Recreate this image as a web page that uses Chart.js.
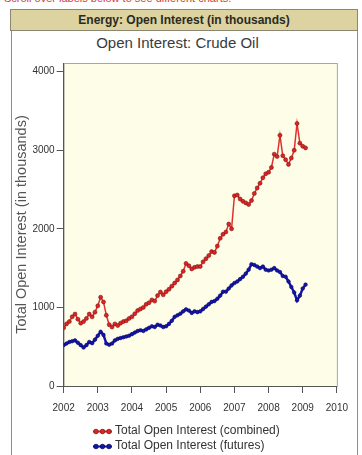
<!DOCTYPE html>
<html>
<head>
<meta charset="utf-8">
<script src="https://cdn.jsdelivr.net/npm/chart.js@4.4.1/dist/chart.umd.min.js"></script>
<style>
  html, body { margin: 0; background: #fff; font-family: "Liberation Sans", Arial, sans-serif; overflow: hidden; }
  #top { position: absolute; left: 4px; top: -8px; font-size: 11px; color: #d04040; white-space: nowrap; }
  #head { position: absolute; left: 10px; top: 9px; width: 346px; height: 20px; background: #dcd3a0;
          border: 1px solid #8a8672; text-align: center; font-weight: bold; font-size: 12px; line-height: 20px; color: #2a2a20; }
  #panel { position: absolute; left: 11px; top: 31px; width: 345px; height: 424px;
           border-left: 1px solid #8d8d8d; border-right: 1px solid #8d8d8d; }
  #titulo { position: absolute; left: 0; top: 34px; width: 355px; text-align: center; font-size: 15px; color: #3a3a3a; }
  #chart1 { position: absolute; left: 12px; top: 30px; }
  #legenda { position: absolute; left: 92px; top: 423px; font-size: 12px; color: #333; line-height: 15px; }
  #legenda div { white-space: nowrap; }
  #legenda canvas { vertical-align: -1px; margin-right: 2px; }
</style>
</head>
<body>
<div id="top">Scroll over labels below to see different charts.</div>
<div id="head">Energy: Open Interest (in thousands)</div>
<div id="panel"></div>
<div id="titulo">Open Interest: Crude Oil</div>
<canvas id="chart1" width="345" height="425"></canvas>
<div id="legenda"></div>
<script>
// meses (ano-mes) de jan/2002 a fev/2009
const meses = [
  '2002-01','2002-02','2002-03','2002-04','2002-05','2002-06','2002-07','2002-08','2002-09','2002-10','2002-11','2002-12',
  '2003-01','2003-02','2003-03','2003-04','2003-05','2003-06','2003-07','2003-08','2003-09','2003-10','2003-11','2003-12',
  '2004-01','2004-02','2004-03','2004-04','2004-05','2004-06','2004-07','2004-08','2004-09','2004-10','2004-11','2004-12',
  '2005-01','2005-02','2005-03','2005-04','2005-05','2005-06','2005-07','2005-08','2005-09','2005-10','2005-11','2005-12',
  '2006-01','2006-02','2006-03','2006-04','2006-05','2006-06','2006-07','2006-08','2006-09','2006-10','2006-11','2006-12',
  '2007-01','2007-02','2007-03','2007-04','2007-05','2007-06','2007-07','2007-08','2007-09','2007-10','2007-11','2007-12',
  '2008-01','2008-02','2008-03','2008-04','2008-05','2008-06','2008-07','2008-08','2008-09','2008-10','2008-11','2008-12',
  '2009-01','2009-02'
];

// Total Open Interest (combined)
const combinado = [
  740, 790, 820, 880, 915, 850, 800, 820, 860, 915, 880, 940,
  1020, 1130, 1070, 900, 780, 750, 790, 770, 800, 820, 830, 860,
  880, 920, 960, 980, 1000, 1040, 1060, 1095, 1080, 1150, 1195, 1160,
  1200, 1230, 1270, 1310, 1350, 1400, 1460, 1560, 1530, 1490, 1510, 1520,
  1520, 1580, 1620, 1660, 1710, 1700, 1780, 1880, 1930, 1960, 2060, 2000,
  2420, 2430, 2380, 2350, 2330, 2310, 2360, 2450, 2520, 2580, 2650, 2700,
  2720, 2780, 2950, 2920, 3190, 2930, 2880, 2820, 2900, 3000, 3340, 3090,
  3050, 3030
];

// Total Open Interest (futures)
const futuros = [
  520, 540, 560, 570, 580, 550, 520, 490, 520, 560, 545, 590,
  640, 690, 650, 540, 525, 540, 580, 600, 610, 620, 630, 640,
  660, 680, 700, 710, 700, 720, 740, 760, 750, 780, 770, 750,
  760, 790, 830, 880, 900, 920, 950, 975, 960, 930, 950, 940,
  950, 980, 1010, 1040, 1070, 1080, 1110, 1150, 1200, 1200, 1240, 1280,
  1310, 1330, 1360, 1390, 1430, 1480, 1550, 1540, 1520, 1500, 1520, 1480,
  1470, 1480, 1500, 1470, 1450, 1400, 1390, 1330, 1260, 1190, 1090, 1150,
  1240, 1290
];

const anos = [2002, 2003, 2004, 2005, 2006, 2007, 2008, 2009, 2010];
const niveis = [0, 1000, 2000, 3000, 4000];

const fonte = '"Liberation Sans", Arial, sans-serif';

function tempo(m) {
  const p = m.split('-');
  return Number(p[0]) + (Number(p[1]) - 1) / 12;
}

// marcador da legenda: linha com 3 bolinhas
function marcador(cor, borda) {
  const c = document.createElement('canvas');
  c.width = 21; c.height = 7;
  const g = c.getContext('2d');
  g.strokeStyle = cor; g.lineWidth = 2;
  g.beginPath(); g.moveTo(1, 3.5); g.lineTo(20, 3.5); g.stroke();
  [4, 10.5, 17].forEach(x => {
    g.beginPath(); g.arc(x, 3.5, 2.3, 0, Math.PI * 2);
    g.fillStyle = cor; g.fill();
    g.strokeStyle = borda; g.lineWidth = 0.8; g.stroke();
  });
  return c;
}

// fundo creme e borda da area do grafico
const fundoPlot = {
  id: 'fundoPlot',
  beforeDraw(chart) {
    const a = chart.chartArea, ctx = chart.ctx;
    ctx.save();
    ctx.fillStyle = '#fdfde8';
    ctx.fillRect(a.left, a.top, a.right - a.left, a.bottom - a.top);
    ctx.strokeStyle = '#a8a8a0';
    ctx.lineWidth = 1;
    ctx.strokeRect(a.left + 0.5, a.top + 0.5, a.right - a.left, a.bottom - a.top);
    ctx.restore();
  }
};

const ctx = document.getElementById('chart1').getContext('2d');
const chart1 = new Chart(ctx, {
  type: 'line',
  data: {
    datasets: [{
      label: 'Total Open Interest (combined)',
      data: meses.map((m, i) => ({ x: tempo(m), y: combinado[i] })),
      borderColor: '#e03030',
      borderWidth: 1.5,
      pointRadius: 2,
      pointBackgroundColor: '#e02222',
      pointBorderColor: '#7a1a1a',
      pointBorderWidth: 0.6,
      tension: 0
    }, {
      label: 'Total Open Interest (futures)',
      data: meses.map((m, i) => ({ x: tempo(m), y: futuros[i] })),
      borderColor: '#1414b0',
      borderWidth: 2.5,
      pointRadius: 1.8,
      pointBackgroundColor: '#1414b0',
      pointBorderColor: '#0a0a60',
      pointBorderWidth: 0.6,
      tension: 0
    }]
  },
  options: {
    responsive: false,
    animation: false,
    layout: { padding: { left: 0, right: 12, top: 33, bottom: 32 } },
    plugins: {
      legend: { display: false },
      tooltip: { enabled: false }
    },
    scales: {
      x: {
        type: 'linear',
        min: 2002,
        max: 2010,
        afterBuildTicks(s) { s.ticks = anos.map(v => ({ value: v })); },
        ticks: {
          color: '#333',
          font: { family: fonte, size: 10 },
          padding: 9,
          maxRotation: 0,
          callback: v => String(v)
        },
        grid: { drawOnChartArea: false, drawTicks: true, tickLength: 7, color: '#555' },
        border: { display: true, color: '#555' }
      },
      y: {
        min: 0,
        max: 4110,
        afterBuildTicks(s) { s.ticks = niveis.map(v => ({ value: v })); },
        ticks: {
          color: '#333',
          font: { family: fonte, size: 10 },
          padding: 2,
          callback: v => String(v)
        },
        title: {
          display: true,
          text: 'Total Open Interest (in thousands)',
          color: '#555',
          font: { family: fonte, size: 14.5 },
          padding: { top: 1, bottom: 0 }
        },
        grid: { drawOnChartArea: false, drawTicks: true, tickLength: 7, color: '#555' },
        border: { display: true, color: '#555' }
      }
    }
  },
  plugins: [fundoPlot]
});

// legenda em duas linhas, a partir dos datasets
const cores = [['#e02222', '#7a1a1a'], ['#1414b0', '#0a0a60']];
const legenda = document.getElementById('legenda');
chart1.data.datasets.forEach((ds, i) => {
  const linha = document.createElement('div');
  linha.appendChild(marcador(cores[i][0], cores[i][1]));
  linha.appendChild(document.createTextNode(ds.label));
  legenda.appendChild(linha);
});
</script>
</body>
</html>
